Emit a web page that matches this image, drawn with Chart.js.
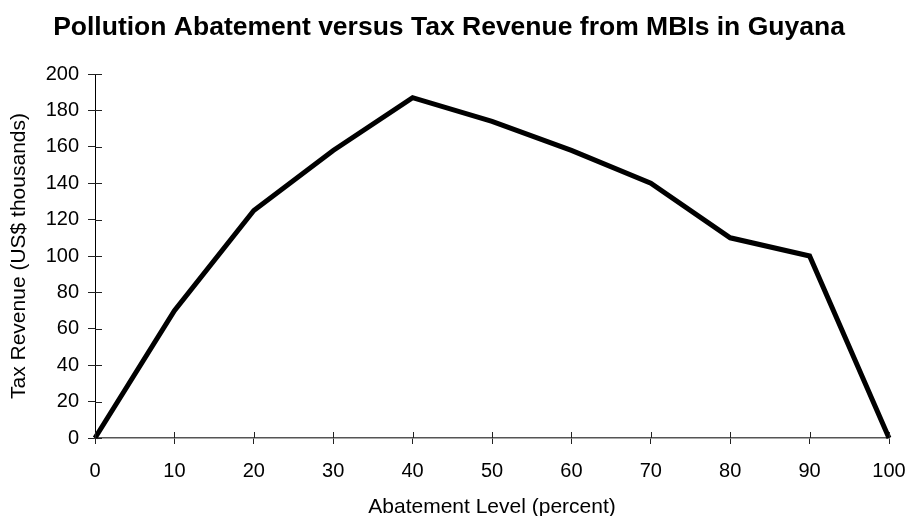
<!DOCTYPE html>
<html>
<head>
<meta charset="utf-8">
<script src="https://cdn.jsdelivr.net/npm/chart.js@4/dist/chart.umd.min.js"></script>
<style>
  html, body { margin: 0; padding: 0; background: #fff; }
  #wrap { width: 909px; height: 516px; }
</style>
</head>
<body>
<div id="wrap"><canvas id="chart"></canvas></div>
<script>
// abatement level (percent) and tax revenue (US$ thousands)
const abatement = [0, 10, 20, 30, 40, 50, 60, 70, 80, 90, 100];
const revenue = [0, 70, 125, 158, 187, 174, 158, 140, 110, 100, 0];

const titleText = 'Pollution Abatement versus Tax Revenue from MBIs in Guyana';
const xTitle = 'Abatement Level (percent)';
const yTitle = 'Tax Revenue (US$ thousands)';

const FONT = 'Arial, "Liberation Sans", sans-serif';

/** ---------------- ticks that cross the axes ---------------- **/
const crossTicks = {
  id: 'crossTicks',
  afterDraw(chart) {
    const ctx = chart.ctx;
    const x = chart.scales.x, y = chart.scales.y;
    ctx.save();
    ctx.strokeStyle = '#222';
    ctx.lineWidth = 1;
    ctx.beginPath();
    y.ticks.forEach(t => {
      const py = Math.round(y.getPixelForValue(t.value)) + 0.5;
      ctx.moveTo(x.left, py);
      ctx.lineTo(x.left + 7, py);
    });
    x.ticks.forEach(t => {
      const px = Math.round(x.getPixelForValue(t.value)) + 0.5;
      ctx.moveTo(px, y.bottom);
      ctx.lineTo(px, y.bottom - 6);
    });
    ctx.stroke();
    ctx.restore();
  }
};

const ctx = document.getElementById('chart');
new Chart(ctx, {
  type: 'line',
  data: {
    datasets: [{
      data: abatement.map((a, i) => ({ x: a, y: revenue[i] })),
      borderColor: '#000',
      borderWidth: 5,
      pointRadius: 0,
      tension: 0,
      fill: false,
      clip: false
    }]
  },
  options: {
    responsive: true,
    maintainAspectRatio: false,
    animation: false,
    layout: { padding: { left: 9, right: 20, top: 0, bottom: 0 } },
    plugins: {
      legend: { display: false },
      tooltip: { enabled: false },
      title: {
        display: true,
        text: titleText,
        color: '#000',
        font: { family: FONT, size: 26.5, weight: 'bold', lineHeight: 1.2 },
        padding: { top: 12, bottom: 30.2 }
      }
    },
    scales: {
      x: {
        type: 'linear',
        min: 0,
        max: 100,
        afterFit: s => { s.height = 78; s.paddingRight = 0; },
        ticks: { stepSize: 10, color: '#000', font: { family: FONT, size: 20 }, padding: 15, maxRotation: 0 },
        grid: { display: true, drawOnChartArea: false, tickLength: 6, color: '#222' },
        border: { color: '#555', width: 1.5 },
        title: { display: true, text: xTitle, color: '#000', font: { family: FONT, size: 21, lineHeight: 1 }, padding: { top: 0, bottom: -2 } }
      },
      y: {
        min: 0,
        max: 200,
        afterFit: s => { s.width = 86; },
        ticks: { stepSize: 20, color: '#000', font: { family: FONT, size: 20 }, padding: 9 },
        grid: { display: true, drawOnChartArea: false, tickLength: 7, color: '#222' },
        border: { color: '#000', width: 1 },
        title: { display: true, text: yTitle, color: '#000', font: { family: FONT, size: 21, lineHeight: 1 }, padding: { top: 0, bottom: 0 } }
      }
    }
  },
  plugins: [crossTicks]
});
</script>
</body>
</html>
